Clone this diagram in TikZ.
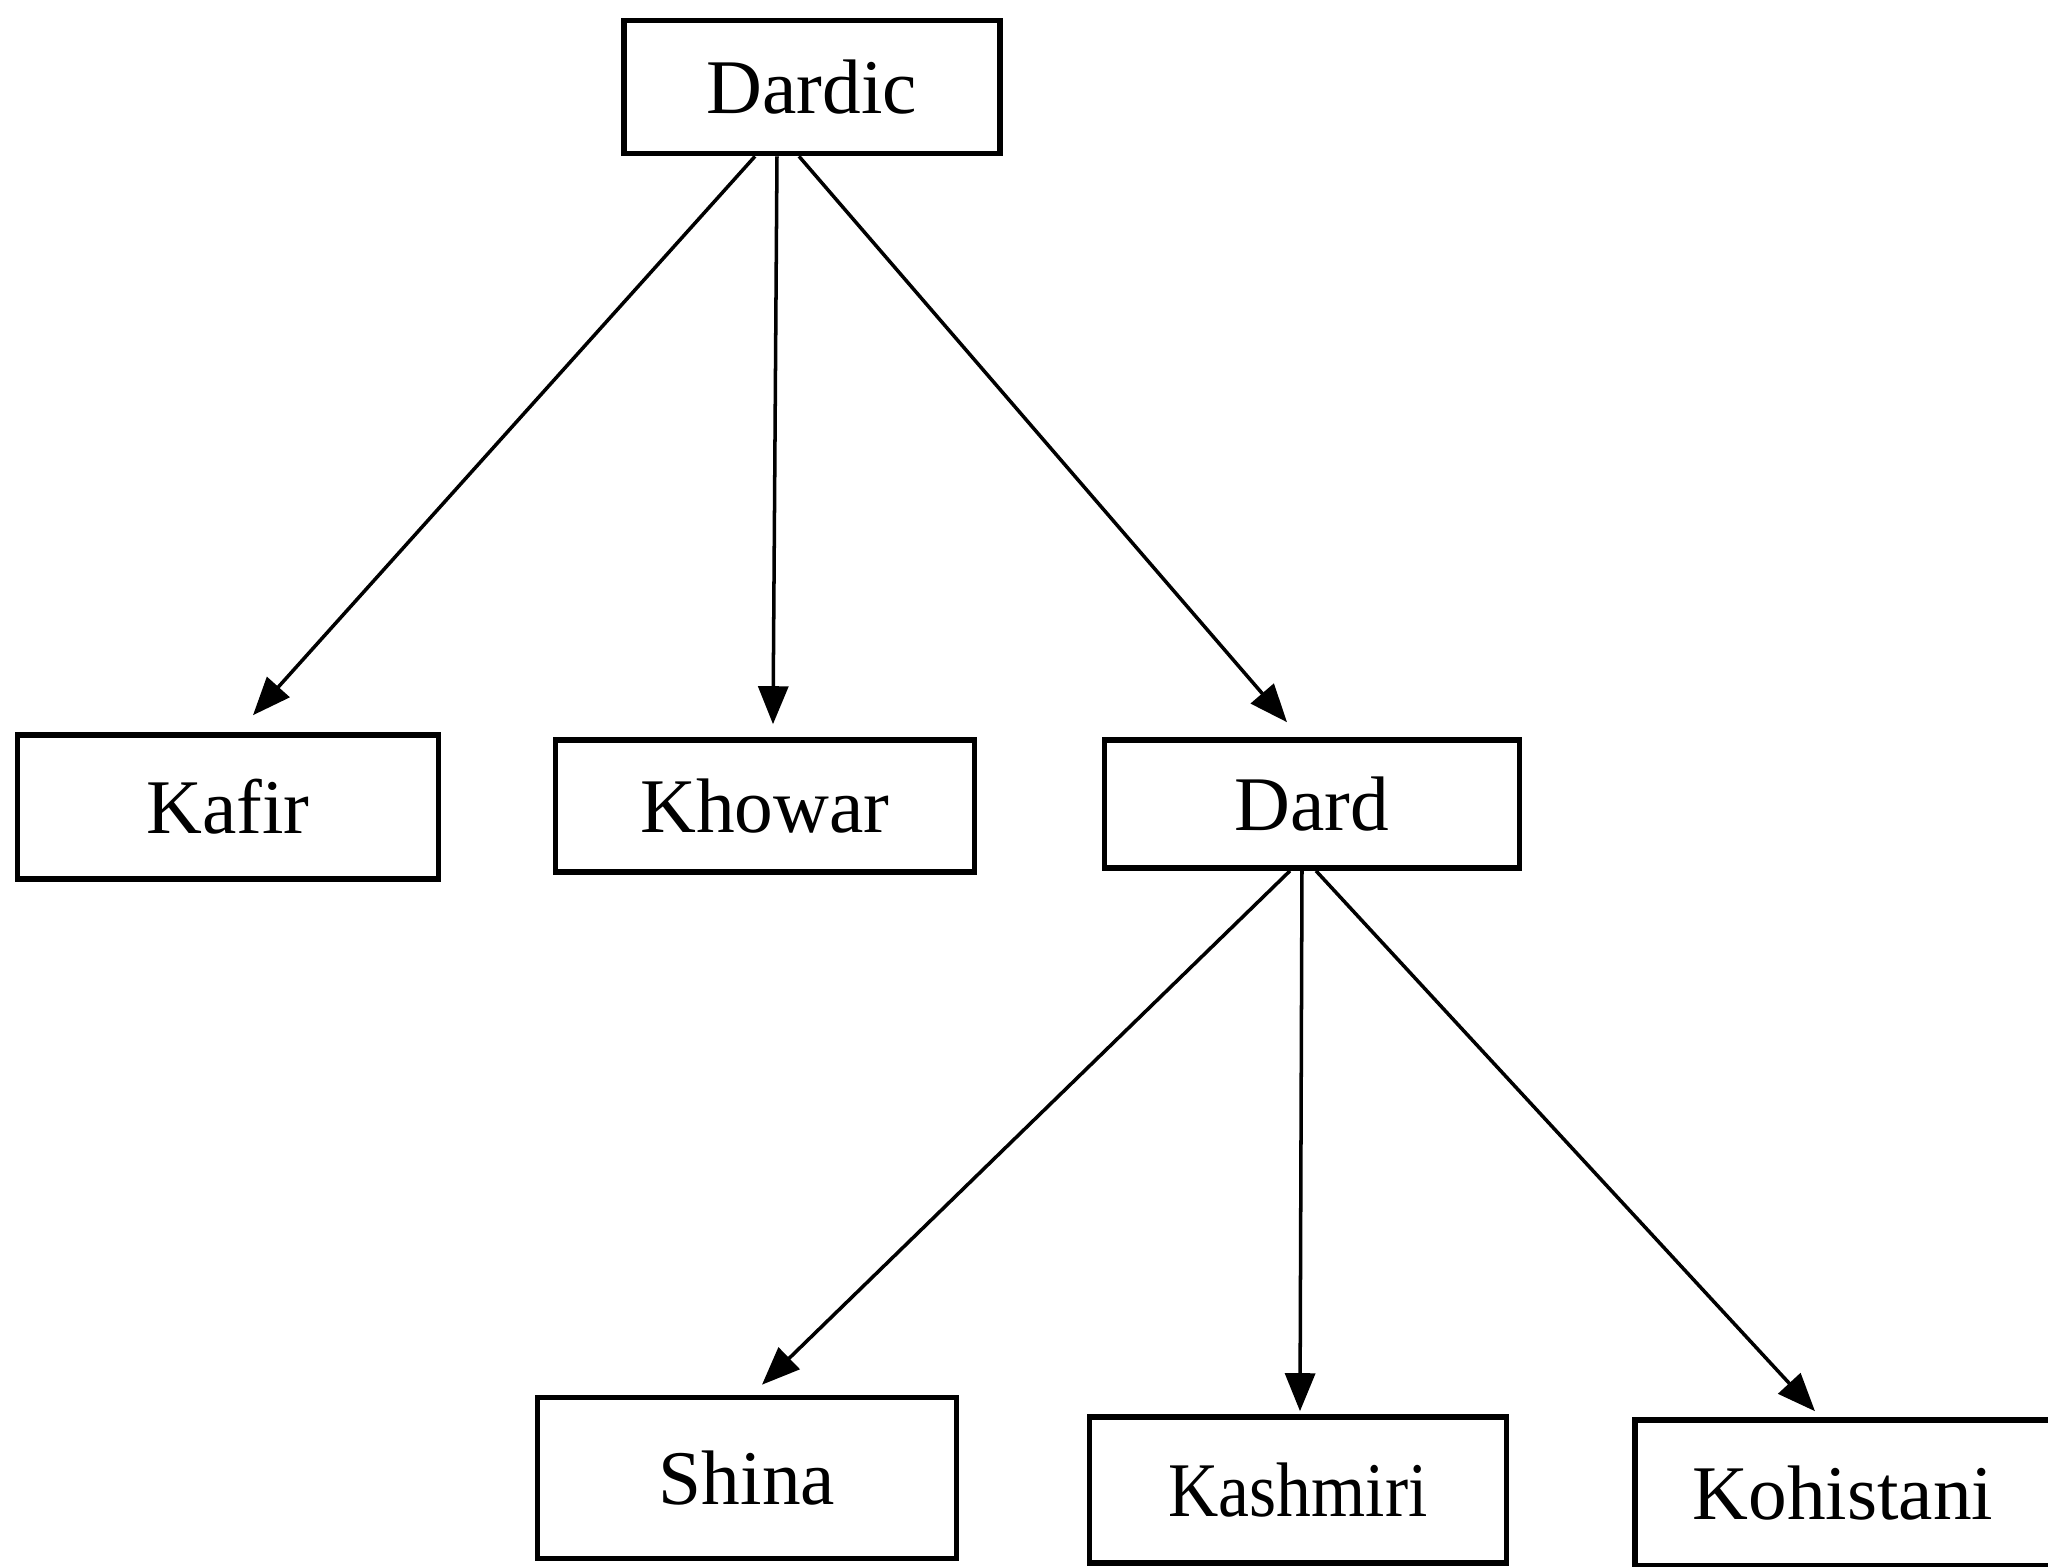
\documentclass[tikz,border=0pt]{standalone}
\usepackage{fontspec}
\setmainfont{Liberation Serif}
\usetikzlibrary{arrows.meta}
\tikzset{
	langbox/.style={draw=black,line width=1.6pt,minimum width=4.18cm,minimum height=1.4cm,inner sep=0pt,font=\fontsize{22}{24}\selectfont},
	branch/.style={draw=black,line width=1.0pt,-{Triangle[length=3.8mm,width=3mm]}}
}
\begin{document}
\begin{tikzpicture}
		\useasboundingbox (0,0) rectangle (20.48,-15.66);
		\node[langbox,minimum width=3.76cm,minimum height=1.33cm] (dardic) at (8.12,-0.87) {Dardic};
		
		\node[langbox,minimum width=4.21cm,minimum height=1.44cm] (kafir) at (2.28,-8.07) {Kafir};
		\node[langbox,minimum width=4.19cm,minimum height=1.32cm] (khowar) at (7.65,-8.06) {Khowar};
		\node[langbox,minimum width=4.15cm,minimum height=1.28cm] (dard) at (13.12,-8.04) {Dard};
		
		\node[langbox,minimum width=4.19cm,minimum height=1.61cm] (shina) at (7.47,-14.78) {Shina};
		\node[langbox,minimum width=4.17cm,minimum height=1.46cm] (kashmiri) at (12.98,-14.90) {\scalebox{0.9}[1]{Kashmiri}};
		\node[langbox,minimum width=4.16cm,minimum height=1.46cm] (kohistani) at (18.43,-14.93) {Kohistani};
		
		\draw[branch] ([xshift=-0.57cm]dardic.south) -- ([xshift=0.25cm,yshift=0.17cm]kafir.north);
		\draw[branch] ([xshift=-0.35cm]dardic.south) -- ([xshift=0.08cm,yshift=0.13cm]khowar.north);
		\draw[branch] ([xshift=-0.13cm]dardic.south) -- ([xshift=-0.25cm,yshift=0.15cm]dard.north);
		
		\draw[branch] ([xshift=-0.22cm]dard.south) -- ([xshift=0.15cm,yshift=0.10cm]shina.north);
		\draw[branch] ([xshift=-0.10cm]dard.south) -- ([xshift=0.02cm,yshift=0.03cm]kashmiri.north);
		\draw[branch] ([xshift=0.04cm]dard.south) -- ([xshift=-0.28cm,yshift=0.06cm]kohistani.north);
	\end{tikzpicture}
\end{document}
